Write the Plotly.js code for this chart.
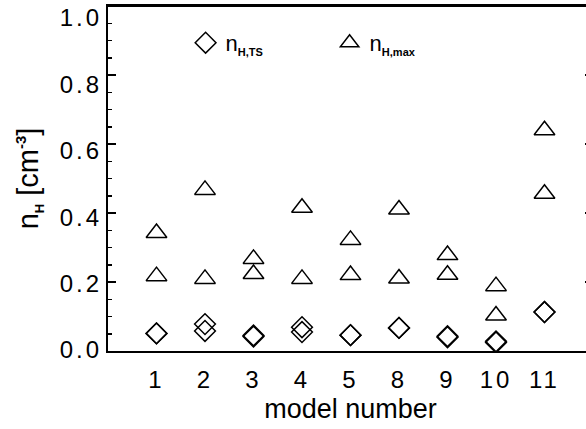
<!DOCTYPE html>
<html>
<head>
<meta charset="utf-8">
<script src="https://cdn.plot.ly/plotly-3.0.1.min.js"></script>
<style>
html, body { margin: 0; padding: 0; overflow: hidden; background: #fff; }
#chart { width: 600px; height: 429px; }
.xtick text, .y2tick text { letter-spacing: 3px; }
</style>
</head>
<body>
<div id="chart"></div>
<script>
// model numbers (categories)
const models = ['1', '2', '3', '4', '5', '8', '9', '10', '11'];
// n_H,TS (diamonds) – two nearly coincident sets
const nTS_a = [0.051, 0.058, 0.042, 0.055, 0.046, 0.067, 0.040, 0.025, 0.113];
const nTS_b = [0.051, 0.078, 0.045, 0.069, 0.046, 0.067, 0.043, 0.028, 0.113];
// n_H,max (triangles) – lower and upper sets
const nMax_a = [0.217, 0.209, 0.223, 0.209, 0.220, 0.210, 0.221, 0.103, 0.456];
const nMax_b = [0.342, 0.467, 0.267, 0.415, 0.322, 0.410, 0.278, 0.188, 0.640];
const yTicks = [0, 0.2, 0.4, 0.6, 0.8, 1.0];
const yTickText = ['0.0', '0.2', '0.4', '0.6', '0.8', '1.0'];

const FONT = 'Liberation Sans, Arial, sans-serif';
const sub = (s) => '<sub><span style="font-size:11px"><b>' + s + '</b></span></sub>';

function diamondTrace(y, name, show) {
  return {
    type: 'scatter', mode: 'markers', x: models, y: y, name: name, showlegend: show,
    marker: { symbol: 'diamond-open', size: 16, color: 'black', line: { width: 1.5, color: 'black' } }
  };
}
function triTrace(y, name, show) {
  return {
    type: 'scatter', mode: 'markers', x: models, y: y, name: name, showlegend: show,
    marker: { symbol: 'triangle-up-open', size: 18, color: 'black', line: { width: 1.5, color: 'black' } }
  };
}

const data = [
  diamondTrace(nTS_a, 'n' + sub('H,TS'), true),
  diamondTrace(nTS_b, 'n' + sub('H,TS'), false),
  triTrace(nMax_a, 'n' + sub('H,max'), true),
  triTrace(nMax_b, 'n' + sub('H,max'), false),
  // empty trace that only registers the label axis
  { type: 'scatter', mode: 'markers', x: [], y: [], yaxis: 'y2', showlegend: false, hoverinfo: 'skip' }
];

const layout = {
  width: 600, height: 429,
  margin: { l: 108, r: 7, t: 6, b: 78 },
  paper_bgcolor: 'white', plot_bgcolor: 'white',
  font: { family: FONT, color: 'black', size: 24 },
  showlegend: true,
  legend: {
    orientation: 'h', x: 0.16, xanchor: 'left', y: 0.893, yanchor: 'middle',
    entrywidth: 99, entrywidthmode: 'pixels',
    font: { family: FONT, size: 22, color: 'black' },
    bgcolor: 'rgba(0,0,0,0)', itemsizing: 'trace'
  },
  xaxis: {
    type: 'category', categoryorder: 'array', categoryarray: models,
    range: [-1, 9], showgrid: false, zeroline: false,
    showline: true, linecolor: 'black', linewidth: 2, mirror: 'all',
    ticks: '', ticklabelstandoff: 6,
    tickfont: { family: FONT, size: 24, color: 'black' },
    title: { text: 'model number', font: { family: FONT, size: 27, color: 'black' }, standoff: 7 }
  },
  // data axis: line and ticks
  yaxis: {
    range: [0, 1.0], showgrid: false, zeroline: false,
    showline: true, linecolor: 'black', linewidth: 2, mirror: 'ticks',
    tickmode: 'array', tickvals: yTicks, showticklabels: false,
    ticks: 'inside', ticklen: 8, tickwidth: 1.5, tickcolor: 'black',
    minor: { dtick: 0.05, ticks: 'inside', ticklen: 4, tickwidth: 1.5, tickcolor: 'black', showgrid: false }
  },
  // label axis: tick labels placed as in the original print (slightly compressed)
  yaxis2: {
    overlaying: 'y', side: 'left', anchor: 'x',
    range: [-0.003, 1.036], showgrid: false, zeroline: false, showline: false,
    tickmode: 'array', tickvals: yTicks, ticktext: yTickText,
    ticks: '', ticklabelstandoff: 5, ticklabeloverflow: 'allow',
    tickfont: { family: FONT, size: 24, color: 'black' },
    title: { text: 'n<sub><span style="font-size:13px"><b>H</b></span></sub> [cm<sup><span style="font-size:15px"><b>-3</b></span></sup>]',
             font: { family: FONT, size: 29, color: 'black' }, standoff: 12 }
  },
  shapes: [
    { type: 'line', xref: 'paper', yref: 'paper', x0: 0, x1: 1, y0: 1, y1: 1,
      line: { color: 'black', width: 2 } }
  ]
};

Plotly.newPlot('chart', data, layout, { staticPlot: true, displayModeBar: false });
</script>
</body>
</html>
